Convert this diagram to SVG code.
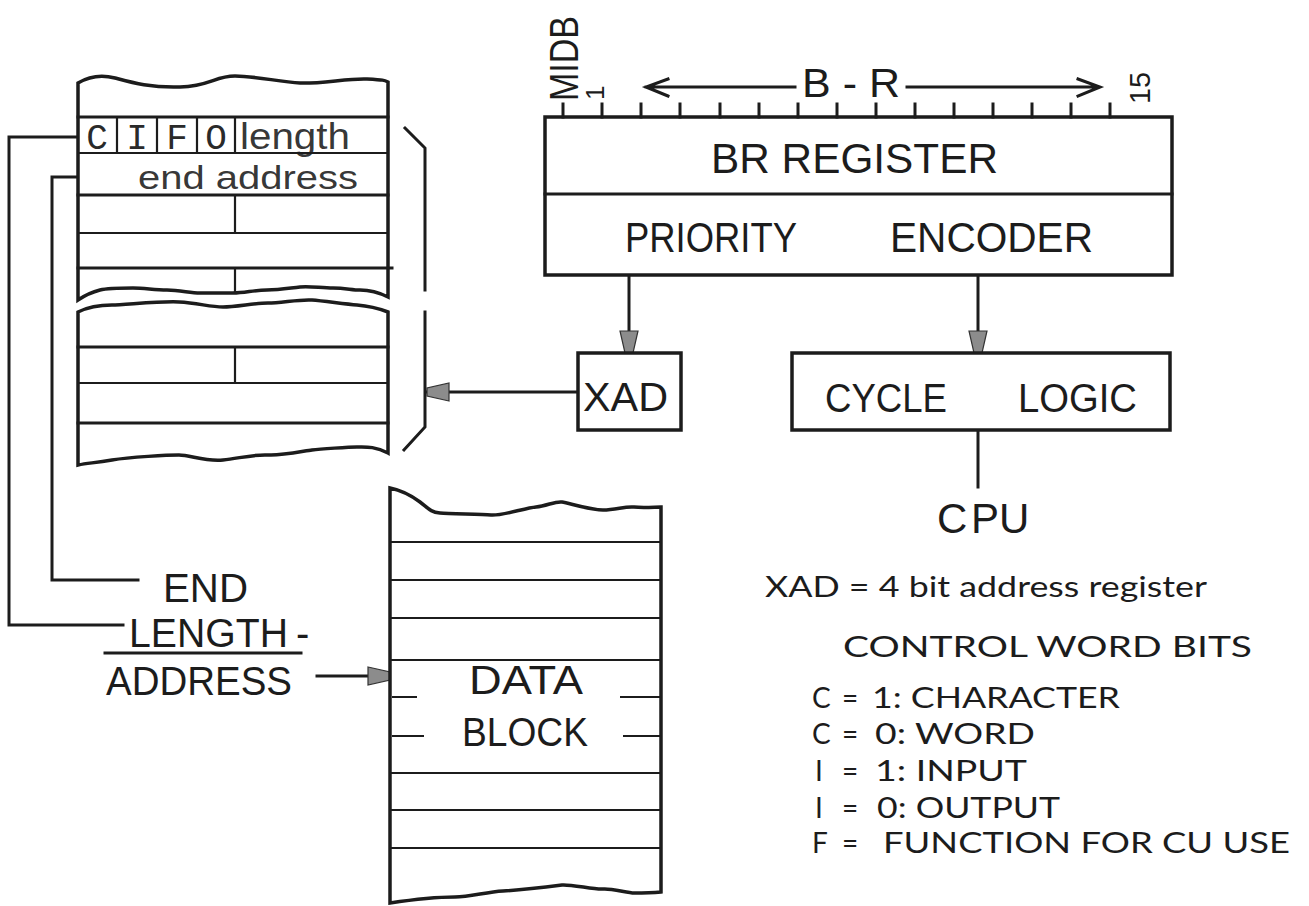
<svg xmlns="http://www.w3.org/2000/svg" width="1309" height="906" viewBox="0 0 1309 906">
<style>
.ln{stroke:#1c1c1c;stroke-width:3;fill:none;stroke-linecap:square;stroke-linejoin:miter}
.box{stroke:#1c1c1c;stroke-width:3.5;fill:#fff}
.thin{stroke:#1c1c1c;stroke-width:2.2;fill:none}
.lbl{font-family:"Liberation Sans",Arial,sans-serif;fill:#1c1c1c}
.mono{font-family:"Liberation Mono","Courier New",monospace;fill:#2a2a2a}
.leg{font-family:Lato,"Noto Sans",sans-serif;fill:#1c1c1c;font-size:28px}
.ah{fill:#8c8c8c;stroke:#333;stroke-width:1.2}
</style>
<defs>
<marker id="head" markerUnits="userSpaceOnUse" viewBox="0 -11 24 22" markerWidth="24" markerHeight="22" refX="23" refY="0" orient="auto">
<path class="ah" d="M1,-9 L23,-4 L23,4 L1,9 Z"/>
</marker>
</defs>
<rect x="0" y="0" width="1309" height="906" fill="#fff"/>

<g id="connectors">
<path class="ln" d="M78,137 L9,137 L9,625 L123,625"/>
<path class="ln" d="M78,177 L52,177 L52,580 L138,580"/>
<path class="ln" d="M629,276 L629,353" marker-end="url(#head)"/>
<path class="ln" d="M978,276 L978,353" marker-end="url(#head)"/>
<path class="ln" d="M577,392 L427,392" marker-end="url(#head)"/>
<path class="ln" d="M978,430 L978,487"/>
<path class="ln" d="M317,676 L390,676" marker-end="url(#head)"/>
</g>

<g id="memory-block-1">
<path class="box" d="M78,300 L78,83 C88,77 100,74 115,78 S150,88 180,87 S215,76 235,76 S280,82 300,83 S350,78 367,79 S384,80 388,82 L388,297 C378,292 368,290 360,290 S345,288 333,288 S310,286 300,287 S280,290 267,290 S245,293 233,293 S210,293 200,293 S180,290 167,290 S145,288 133,288 S108,288 100,290 S84,296 78,300 Z"/>
<path class="ln" d="M78,117 L388,117"/>
<path class="thin" d="M78,153 L388,153"/>
<path class="ln" d="M78,195 L388,195"/>
<path class="thin" d="M78,233 L388,233"/>
<path class="ln" d="M78,268 L392,268"/>
<path class="thin" d="M117,117 L117,153 M157,117 L157,153 M197,117 L197,153 M235,117 L235,153 M235,195 L235,233 M235,268 L235,292"/>
<text class="mono" x="97" y="149" font-size="36" text-anchor="middle">C</text>
<text class="mono" x="137" y="149" font-size="36" text-anchor="middle">I</text>
<text class="mono" x="177" y="149" font-size="36" text-anchor="middle">F</text>
<text class="mono" x="216" y="149" font-size="36" text-anchor="middle">O</text>
<text class="lbl" x="240" y="149" font-size="36" textLength="110" lengthAdjust="spacingAndGlyphs" fill-opacity="0.9">length</text>
<text class="lbl" x="138" y="189" font-size="34" textLength="220" lengthAdjust="spacingAndGlyphs" fill-opacity="0.9">end address</text>
</g>

<g id="memory-block-2">
<path class="box" d="M78,465 L78,312 C90,306 100,305 112,305 S160,301 179,302 S210,307 223,307 S255,303 268,303 S300,299 312,300 S345,304 357,305 S380,309 388,312 L388,453 C375,446 365,447 357,447 S320,449 312,450 S280,456 268,455 S240,458 223,460 S190,455 179,455 S130,457 112,460 S88,463 78,465 Z"/>
<path class="ln" d="M78,347 L388,347"/>
<path class="thin" d="M78,383 L388,383 M235,347 L235,383"/>
<path class="ln" d="M78,423 L388,423"/>
</g>

<g id="bracket">
<path class="ln" d="M405,128 L425,148 L425,290"/>
<path class="ln" d="M425,312 L425,427 L404,450"/>
</g>

<g id="br-register">
<rect class="box" x="545" y="117" width="627" height="158"/>
<path class="ln" d="M545,194 L1172,194"/>
<path class="ln" d="M563,104 L563,117 M602,104 L602,117 M641,104 L641,117 M680,104 L680,117 M720,104 L720,117 M759,104 L759,117 M798,104 L798,117 M837,104 L837,117 M876,104 L876,117 M915,104 L915,117 M954,104 L954,117 M993,104 L993,117 M1032,104 L1032,117 M1071,104 L1071,117 M1110,104 L1110,117"/>
<text class="lbl" font-size="40" transform="translate(578,101) rotate(-90)" textLength="85" lengthAdjust="spacingAndGlyphs">MIDB</text>
<text class="lbl" font-size="26" transform="translate(604,100) rotate(-90)">1</text>
<text class="lbl" font-size="30" transform="translate(1150,104) rotate(-90)" textLength="32" lengthAdjust="spacingAndGlyphs">15</text>
<path class="ln" d="M668,79 L646,87 L668,96 M646,87 L795,87"/>
<path class="ln" d="M907,87 L1099,87 M1078,79 L1100,87 L1078,96"/>
<text class="lbl" x="802" y="97" font-size="40" textLength="98" lengthAdjust="spacingAndGlyphs">B - R</text>
<text class="lbl" x="711" y="173" font-size="42" textLength="287" lengthAdjust="spacingAndGlyphs">BR REGISTER</text>
<text class="lbl" x="625" y="252" font-size="42" textLength="172" lengthAdjust="spacingAndGlyphs">PRIORITY</text>
<text class="lbl" x="890" y="252" font-size="42" textLength="203" lengthAdjust="spacingAndGlyphs">ENCODER</text>
</g>

<g id="xad">
<rect class="box" x="578" y="353" width="103" height="77"/>
<text class="lbl" x="583" y="411" font-size="40" textLength="85" lengthAdjust="spacingAndGlyphs">XAD</text>
</g>

<g id="cycle-logic">
<rect class="box" x="792" y="353" width="378" height="77"/>
<text class="lbl" x="825" y="412" font-size="40" textLength="122" lengthAdjust="spacingAndGlyphs">CYCLE</text>
<text class="lbl" x="1018" y="412" font-size="40" textLength="119" lengthAdjust="spacingAndGlyphs">LOGIC</text>
</g>

<g id="cpu">
<text class="lbl" y="533" font-size="42"><tspan x="937">C</tspan><tspan x="971">PU</tspan></text>
</g>

<g id="data-block">
<path class="box" d="M390,903 L390,488 C400,490 412,496 420,502 S430,512 440,513 S480,514 491,515 S525,508 536,507 S555,501 562,502 S590,510 603,510 S625,506 634,507 S655,507 661,507 L661,892 C650,893 640,893 634,893 S610,888 603,889 S570,884 562,885 S520,890 503,891 S470,897 455,897 S410,900 390,903 Z"/>
<path class="thin" d="M390,542 L661,542 M390,580 L661,580 M390,618 L661,618 M390,660 L661,660 M390,773 L661,773 M390,810 L661,810 M390,848 L661,848"/>
<path class="thin" d="M392,697 L417,697 M620,697 L661,697 M392,736 L424,736 M623,736 L661,736"/>
<text class="lbl" x="469" y="694" font-size="40" textLength="114" lengthAdjust="spacingAndGlyphs">DATA</text>
<text class="lbl" x="462" y="746" font-size="40" textLength="126" lengthAdjust="spacingAndGlyphs">BLOCK</text>
</g>

<g id="end-length-address">
<text class="lbl" x="163" y="602" font-size="40" textLength="85" lengthAdjust="spacingAndGlyphs">END</text>
<text class="lbl" x="129" y="647" font-size="40" textLength="159" lengthAdjust="spacingAndGlyphs">LENGTH</text>
<text class="lbl" x="296" y="647" font-size="40">-</text>
<path class="ln" d="M105,653 L301,653"/>
<text class="lbl" x="106" y="695" font-size="40" textLength="186" lengthAdjust="spacingAndGlyphs">ADDRESS</text>
</g>

<g id="legend">
<text class="leg" x="765" y="597" textLength="442" lengthAdjust="spacingAndGlyphs">XAD = 4 bit address register</text>
<text class="leg" x="843" y="657" font-size="27" textLength="409" lengthAdjust="spacingAndGlyphs">CONTROL WORD BITS</text>
<text class="leg" y="708"><tspan x="812">C</tspan><tspan x="842">=</tspan></text>
<text class="leg" x="872" y="708" textLength="248" lengthAdjust="spacingAndGlyphs">1: CHARACTER</text>
<text class="leg" y="744"><tspan x="812">C</tspan><tspan x="842">=</tspan></text>
<text class="leg" x="875" y="744" textLength="160" lengthAdjust="spacingAndGlyphs">0: WORD</text>
<text class="leg" y="781"><tspan x="815">I</tspan><tspan x="842">=</tspan></text>
<text class="leg" x="875" y="781" textLength="152" lengthAdjust="spacingAndGlyphs">1: INPUT</text>
<text class="leg" y="818"><tspan x="815">I</tspan><tspan x="842">=</tspan></text>
<text class="leg" x="877" y="818" textLength="183" lengthAdjust="spacingAndGlyphs">0: OUTPUT</text>
<text class="leg" y="853"><tspan x="812">F</tspan><tspan x="842">=</tspan></text>
<text class="leg" x="883" y="853" textLength="407" lengthAdjust="spacingAndGlyphs">FUNCTION FOR CU USE</text>
</g>
</svg>
